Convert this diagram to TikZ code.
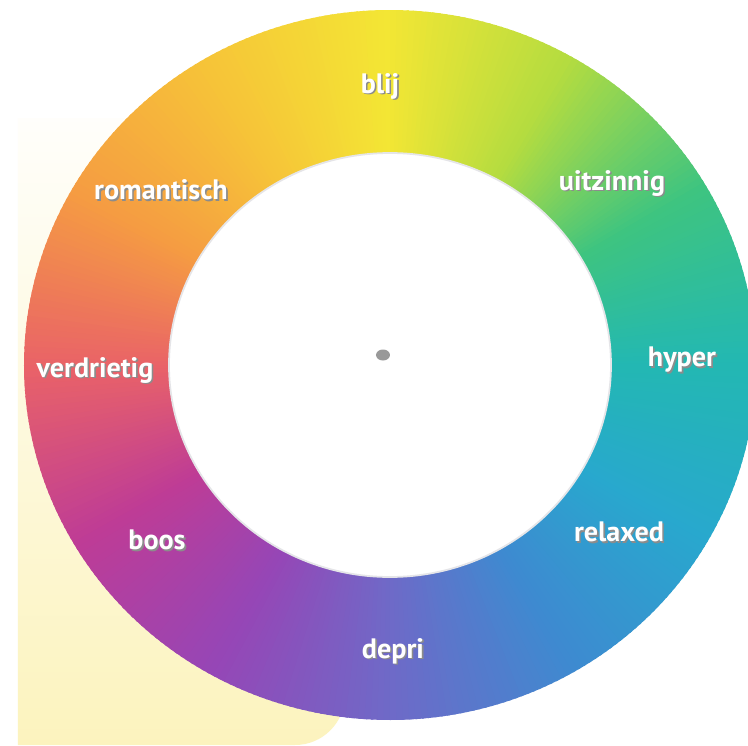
\documentclass[tikz,border=0pt]{standalone}
\usepackage{fontspec}
\setmainfont{PT Sans}
\usepackage{xcolor}

% colours round the wheel, every 30 degrees from the east, counter-clockwise
\definecolor{wheel0}{RGB}{35,184,178}
\definecolor{wheel1}{RGB}{62,196,128}
\definecolor{wheel2}{RGB}{180,220,64}
\definecolor{wheel3}{RGB}{243,230,52}
\definecolor{wheel4}{RGB}{246,196,56}
\definecolor{wheel5}{RGB}{245,156,66}
\definecolor{wheel6}{RGB}{233,98,104}
\definecolor{wheel7}{RGB}{190,60,150}
\definecolor{wheel8}{RGB}{150,70,182}
\definecolor{wheel9}{RGB}{110,106,200}
\definecolor{wheel10}{RGB}{62,138,208}
\definecolor{wheel11}{RGB}{40,168,206}
\definecolor{paper}{RGB}{250,236,150}

\tikzset{
  moodtext/.style={text=white, inner sep=0pt},
  moodshade/.style={text=black!45, inner sep=0pt, xshift=0.9pt, yshift=-0.9pt},
}

\begin{document}
\begin{tikzpicture}[x=0.02cm, y=0.02cm, font=\bfseries\fontsize{16}{18}\selectfont]
  \useasboundingbox (-390,-380) rectangle (358,365);
  \clip (-390,-380) rectangle (358,365);
  \fill[white] (-390,-380) rectangle (358,365);

  % pale paper behind the wheel
  \shade[top color=paper!4!white, bottom color=paper!62!white]
    (-372,247) -- (-45,247) -- (-45,-330)
    arc[start angle=0, end angle=-90, radius=50] -- (-372,-380) -- cycle;

  % the colour ring
  \foreach \i in {0,...,11} {
    \pgfmathtruncatemacro{\j}{mod(\i+1,12)}
    \foreach \k in {0,...,29} {
      \pgfmathsetmacro{\p}{100-10*\k/3}
      \pgfmathsetmacro{\a}{30*\i+\k}
      \fill[wheel\i!\p!wheel\j] (0,0) -- (\a:366 and 355)
        arc[start angle=\a, end angle=\a+1.4, x radius=366, y radius=355] -- cycle;
    }
  }
  \fill[white, draw=blue!10!black!10, line width=1pt] (0,0) ellipse [x radius=221, y radius=212];
  \fill[black!40] (-7,10) ellipse [x radius=7, y radius=5.5];

  % labels
  \foreach \pos/\name/\word in {
      {(-10,279)}/blij/blij,
      {(222,182)}/uitzinnig/uitzinnig,
      {(292,5)}/hyper/hyper,
      {(229,-167)}/relaxed/relaxed,
      {(3,-286)}/depri/depri,
      {(-233,-175)}/boos/boos,
      {(-295,-5)}/verdrietig/verdrietig,
      {(-229,175)}/romantisch/romantisch} {
    \node[moodshade] (\name-s) at \pos {\word};
    \node[moodtext] (\name) at \pos {\word};
  }
\end{tikzpicture}
\end{document}
